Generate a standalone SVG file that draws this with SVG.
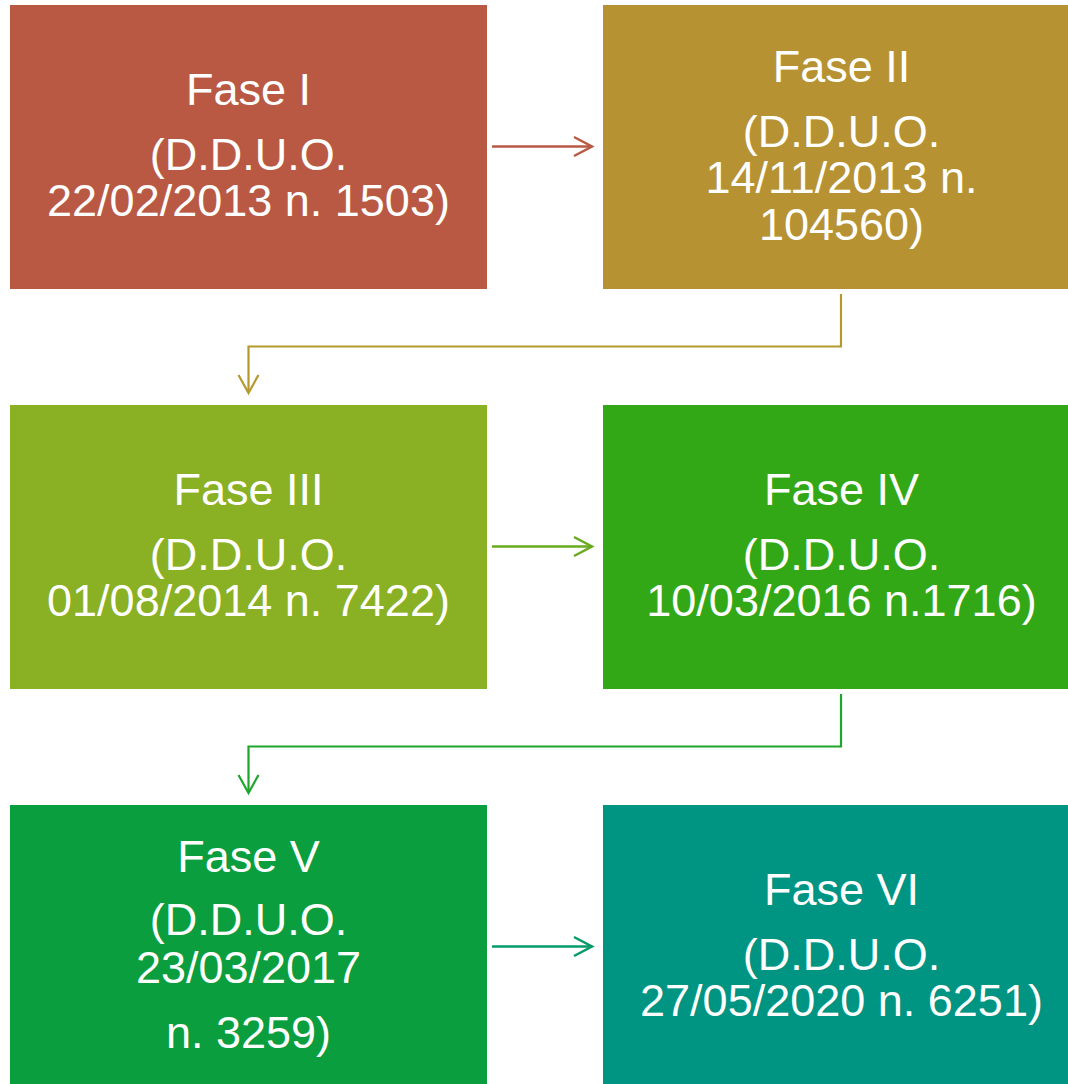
<svg xmlns="http://www.w3.org/2000/svg" width="1068" height="1084" viewBox="0 0 1068 1084">
<style>
.t{font-family:"Liberation Sans",Arial,sans-serif;font-size:45px;fill:#FFFFFF;text-anchor:middle}
.c{fill:none;stroke-width:2.2;stroke-linecap:butt;stroke-linejoin:miter}
.h{fill:none;stroke-width:2.5}
</style>
<rect width="1068" height="1084" fill="#FFFFFF"/>
<g id="node1">
<rect x="10" y="5" width="477" height="284" fill="#B95943"/>
<text class="t" x="248.5" y="105">Fase I</text>
<text class="t" x="248.5" y="170">(D.D.U.O.</text>
<text class="t" x="248.5" y="216">22/02/2013 n. 1503)</text>
</g>
<g id="node2">
<rect x="603" y="5" width="477" height="284" fill="#B69233"/>
<text class="t" x="841.5" y="82">Fase II</text>
<text class="t" x="841.5" y="147">(D.D.U.O.</text>
<text class="t" x="841.5" y="193">14/11/2013 n.</text>
<text class="t" x="841.5" y="240">104560)</text>
</g>
<g id="node3">
<rect x="10" y="405" width="477" height="284" fill="#8AB023"/>
<text class="t" x="248.5" y="505">Fase III</text>
<text class="t" x="248.5" y="570">(D.D.U.O.</text>
<text class="t" x="248.5" y="616">01/08/2014 n. 7422)</text>
</g>
<g id="node4">
<rect x="603" y="405" width="477" height="284" fill="#33A817"/>
<text class="t" x="841.5" y="505">Fase IV</text>
<text class="t" x="841.5" y="570">(D.D.U.O.</text>
<text class="t" x="841.5" y="616">10/03/2016 n.1716)</text>
</g>
<g id="node5">
<rect x="10" y="805" width="477" height="284" fill="#0A9E3E"/>
<text class="t" x="248.5" y="872">Fase V</text>
<text class="t" x="248.5" y="935">(D.D.U.O.</text>
<text class="t" x="248.5" y="983">23/03/2017</text>
<text class="t" x="248.5" y="1048">n. 3259)</text>
</g>
<g id="node6">
<rect x="603" y="805" width="477" height="284" fill="#009483"/>
<text class="t" x="841.5" y="905">Fase VI</text>
<text class="t" x="841.5" y="970">(D.D.U.O.</text>
<text class="t" x="841.5" y="1016">27/05/2020 n. 6251)</text>
</g>
<g id="connectors">
<g stroke="#B85A43" class="h">
<line x1="492" y1="146.5" x2="592" y2="146.5"/>
<polyline points="574,137 592,146.5 574,156"/>
</g>
<g stroke="#B49A2E" class="c">
<polyline points="841,294 841,346.5 248.5,346.5 248.5,392"/>
<polyline points="238.5,375 248.5,393 258.5,375"/>
</g>
<g stroke="#6AAA1E" class="h">
<line x1="492" y1="546.5" x2="592" y2="546.5"/>
<polyline points="574,537 592,546.5 574,556"/>
</g>
<g stroke="#1FA52B" class="c">
<polyline points="841,694 841,746.5 248.5,746.5 248.5,792"/>
<polyline points="238.5,775 248.5,793 258.5,775"/>
</g>
<g stroke="#069A6B" class="h">
<line x1="492" y1="946.5" x2="592" y2="946.5"/>
<polyline points="574,937 592,946.5 574,956"/>
</g>
</g>
</svg>
